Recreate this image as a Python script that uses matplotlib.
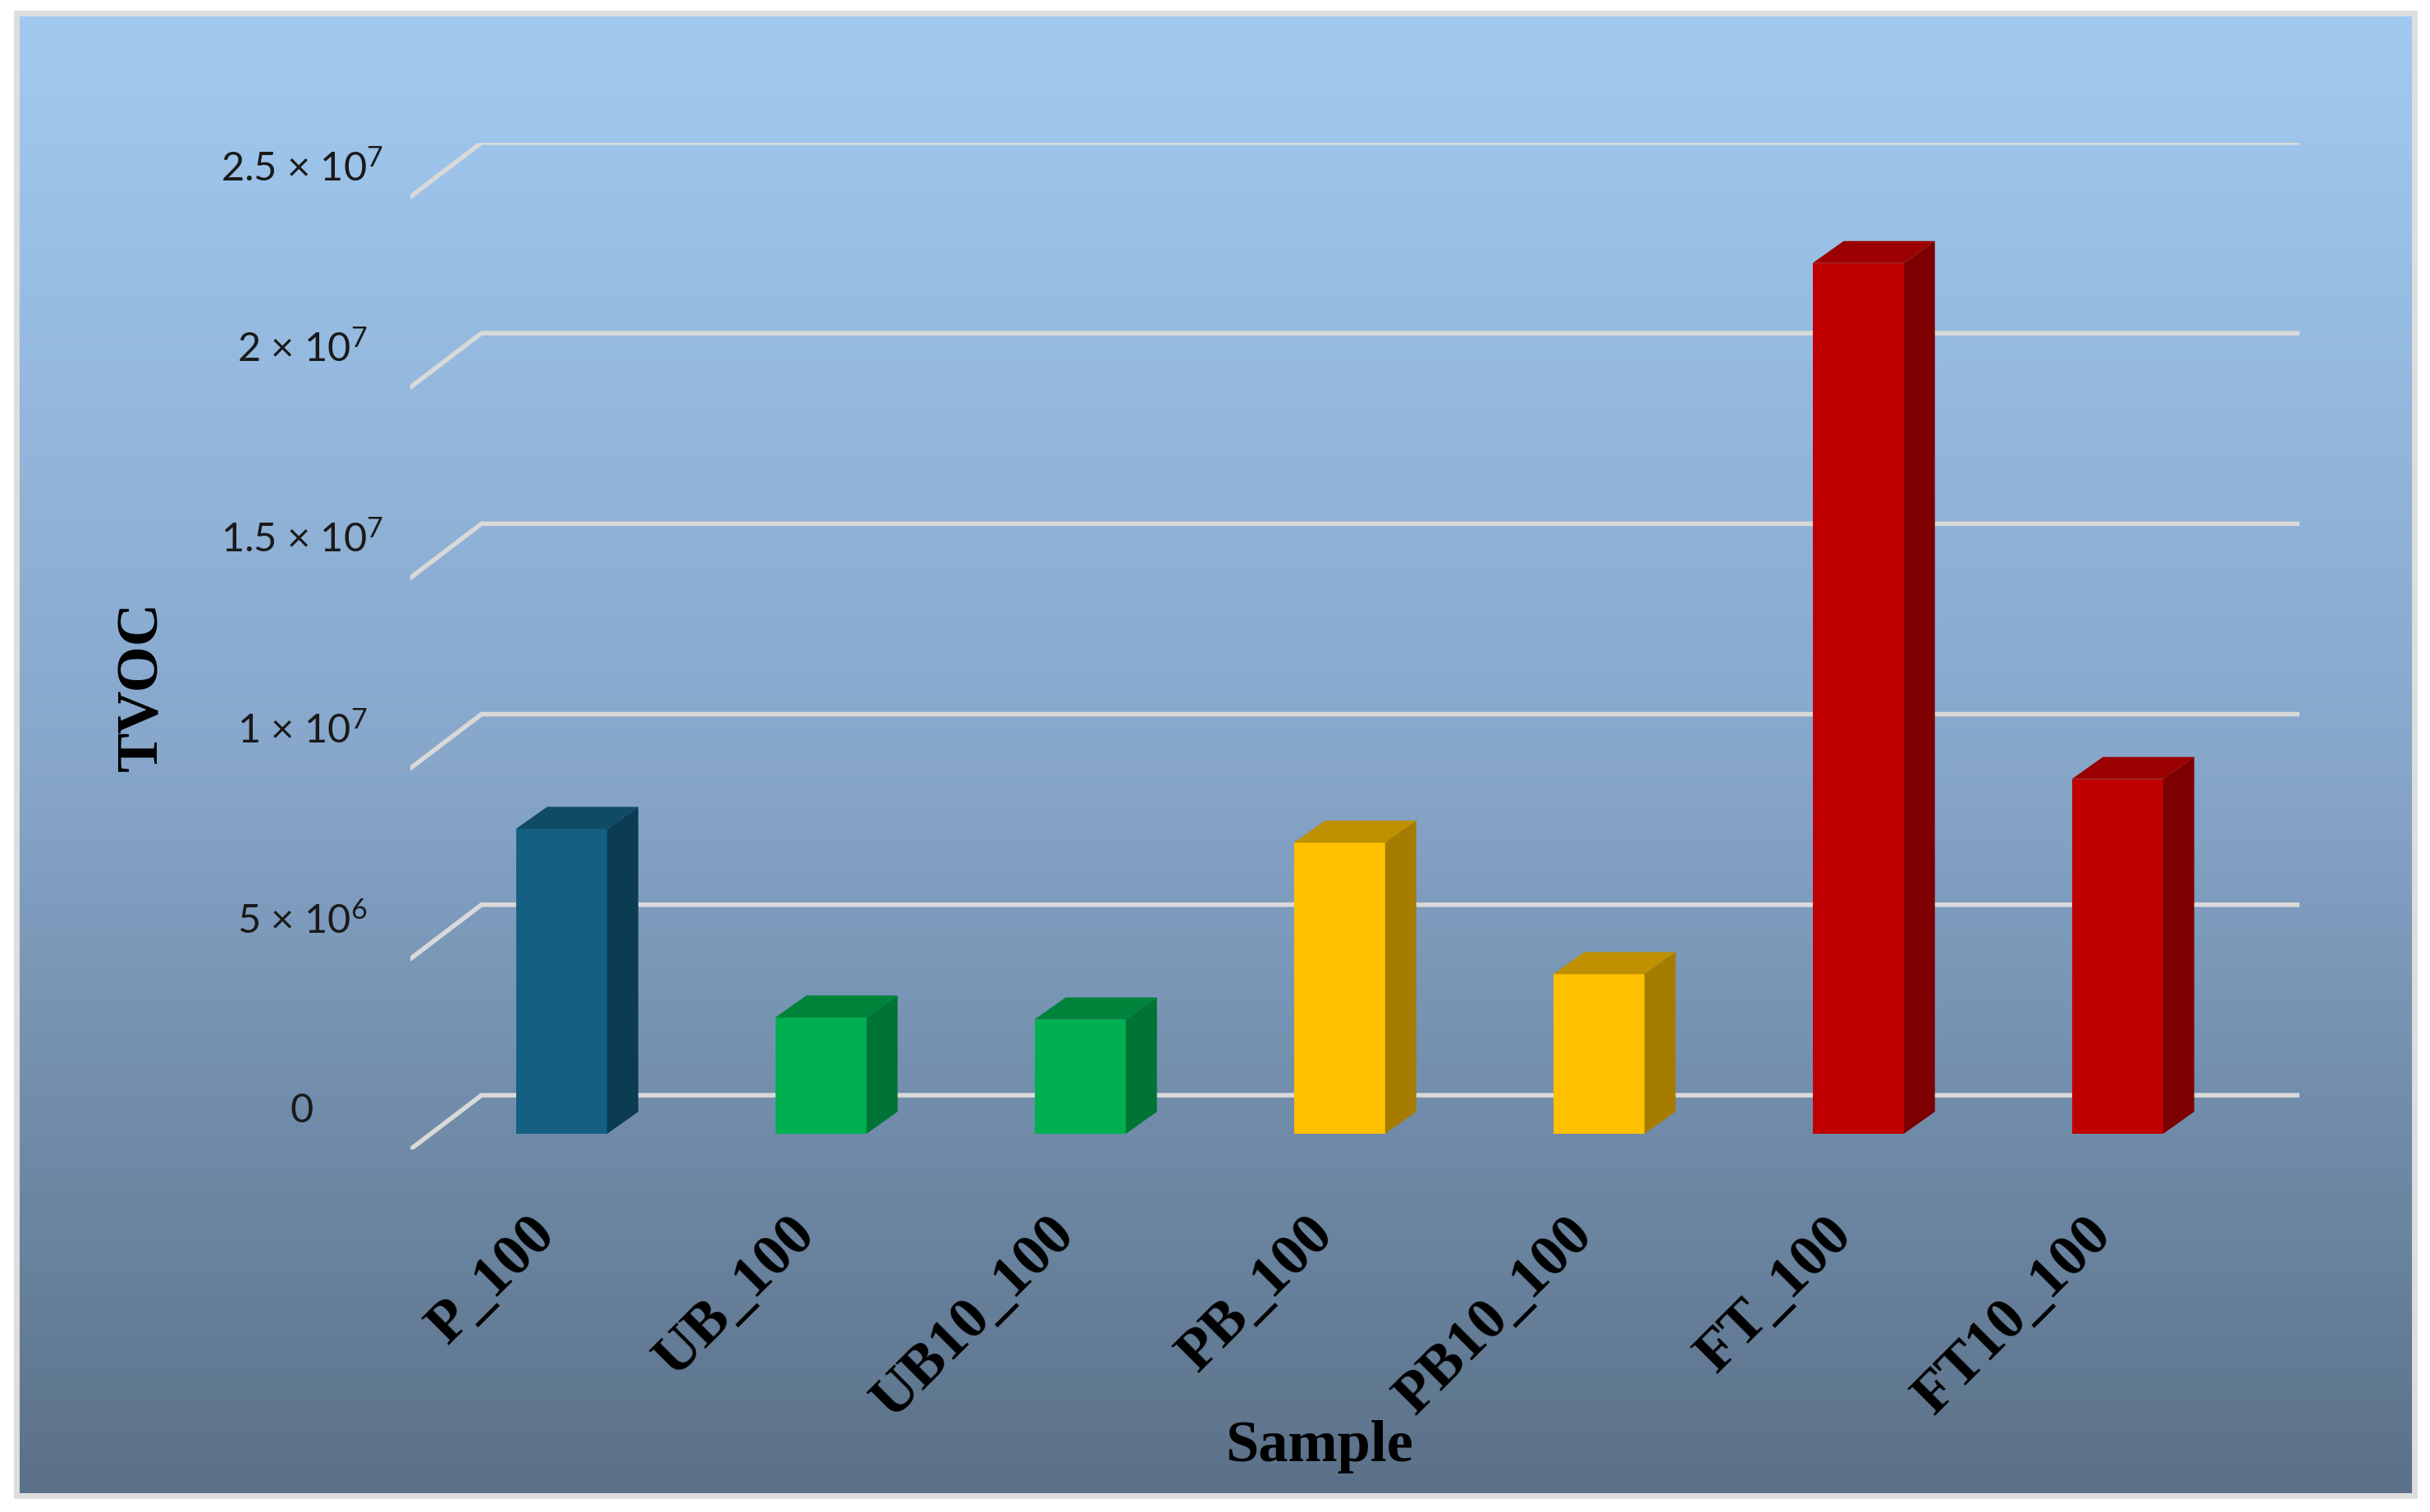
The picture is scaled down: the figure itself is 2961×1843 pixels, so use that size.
import numpy as np
import matplotlib
matplotlib.use('Agg')
import matplotlib.pyplot as plt
from matplotlib.colors import LinearSegmentedColormap
from matplotlib.patches import Polygon, Rectangle
from matplotlib.transforms import ScaledTranslation

samples = ['P_100', 'UB_100', 'UB10_100', 'PB_100', 'PB10_100', 'FT_100', 'FT10_100']
tvoc = [8.0e6, 3.05e6, 3.0e6, 7.64e6, 4.19e6, 22.85e6, 9.31e6]
front_colors = ['#156082', '#00B050', '#00B050', '#FFC000', '#FFC000', '#C00000', '#C00000']
top_colors = ['#104B66', '#00843B', '#00843B', '#BF9000', '#BF9000', '#9C0000', '#9C0000']
side_colors = ['#0B3C52', '#007434', '#007434', '#A67C00', '#A67C00', '#7D0000', '#7D0000']
y_ticks = [0, 5e6, 1e7, 1.5e7, 2e7, 2.5e7]
y_labels = ['0', '5 × 10$^{6}$', '1 × 10$^{7}$', '1.5 × 10$^{7}$', '2 × 10$^{7}$', '2.5 × 10$^{7}$']

W, H = 2961, 1843
plt.rcParams['mathtext.fontset'] = 'custom'
plt.rcParams['mathtext.rm'] = 'Lato'
plt.rcParams['mathtext.default'] = 'rm'

fig = plt.figure(figsize=(W / 100, H / 100), dpi=100, facecolor='white')

# panel background
bg = fig.add_axes([0, 0, 1, 1], zorder=0)
bg.axis('off')
cmap = LinearSegmentedColormap.from_list('panel', ['#A2CAF1', '#87A7CB', '#5B7188'])
bg.imshow(np.linspace(0, 1, 512).reshape(-1, 1), cmap=cmap, aspect='auto',
          extent=[22, 2940, 1820, 18], zorder=1)
bg.set_xlim(0, W)
bg.set_ylim(H, 0)
bg.add_patch(Rectangle((20, 16), 2922, 1807, fill=False, ec='#DEDEDE', lw=5, zorder=2))

# main axes, its left/bottom edge is the front of the floor
ax = fig.add_axes([500 / W, (H - 1401) / H, 2302 / W, 1227 / H], zorder=1)
ax.patch.set_alpha(0)
ax.set_xlim(-0.583, 6.702)
ax.set_ylim(-4.09e5, 2.601e7)
for s in ax.spines.values():
    s.set_visible(False)

# walls
wall_x = -0.3085
wall_dy = 1.012e6
front_dy = -4.09e5
for v in y_ticks:
    ax.plot([-0.583, wall_x, 6.702], [v + front_dy, v + wall_dy, v + wall_dy],
            color='#D9D9D9', lw=4, solid_capstyle='round', solid_joinstyle='miter', zorder=1)

# bars with fake depth
x = np.arange(len(samples))
bar_w = 0.352
dx = 0.12
dy = 5.8e5
ax.bar(x, tvoc, width=bar_w, color=front_colors, zorder=3)
for xi, v, tc, sc in zip(x, tvoc, top_colors, side_colors):
    l, r = xi - bar_w / 2, xi + bar_w / 2
    ax.add_patch(Polygon([(l, v), (r, v), (r + dx, v + dy), (l + dx, v + dy)],
                         fc=tc, ec='none', zorder=3))
    ax.add_patch(Polygon([(r, 0), (r + dx, dy), (r + dx, v + dy), (r, v)],
                         fc=sc, ec='none', zorder=3))

# labels
ax.set_xticks(x)
ax.set_xticklabels(samples, rotation=45, ha='right', va='top', rotation_mode='anchor',
                   family='Liberation Serif', fontweight='bold', fontsize=52)
ax.set_yticks(y_ticks)
ax.set_yticklabels(y_labels, family='Lato', fontsize=35, color='#1A1A1A', ha='center')
ax.tick_params(axis='x', length=0, pad=40)
ax.tick_params(axis='y', length=0, pad=95)
for lab in ax.get_xticklabels():
    lab.set_transform(lab.get_transform() + ScaledTranslation(-0.40, -0.15, fig.dpi_scale_trans))
for lab, v in zip(ax.get_yticklabels(), y_ticks):
    up = 0.20 if v == 2.5e7 else 0.32
    lab.set_transform(lab.get_transform() + ScaledTranslation(0, up, fig.dpi_scale_trans))

ax.set_xlabel('Sample', family='Liberation Serif', fontweight='bold', fontsize=52, va='center')
ax.xaxis.set_label_coords(0.481, -0.2955)
ax.set_ylabel('TVOC', family='Liberation Serif', fontweight='bold', fontsize=52, va='center')
ax.yaxis.set_label_coords(-0.1415, 0.46)

fig.savefig('out.png', dpi=100)
